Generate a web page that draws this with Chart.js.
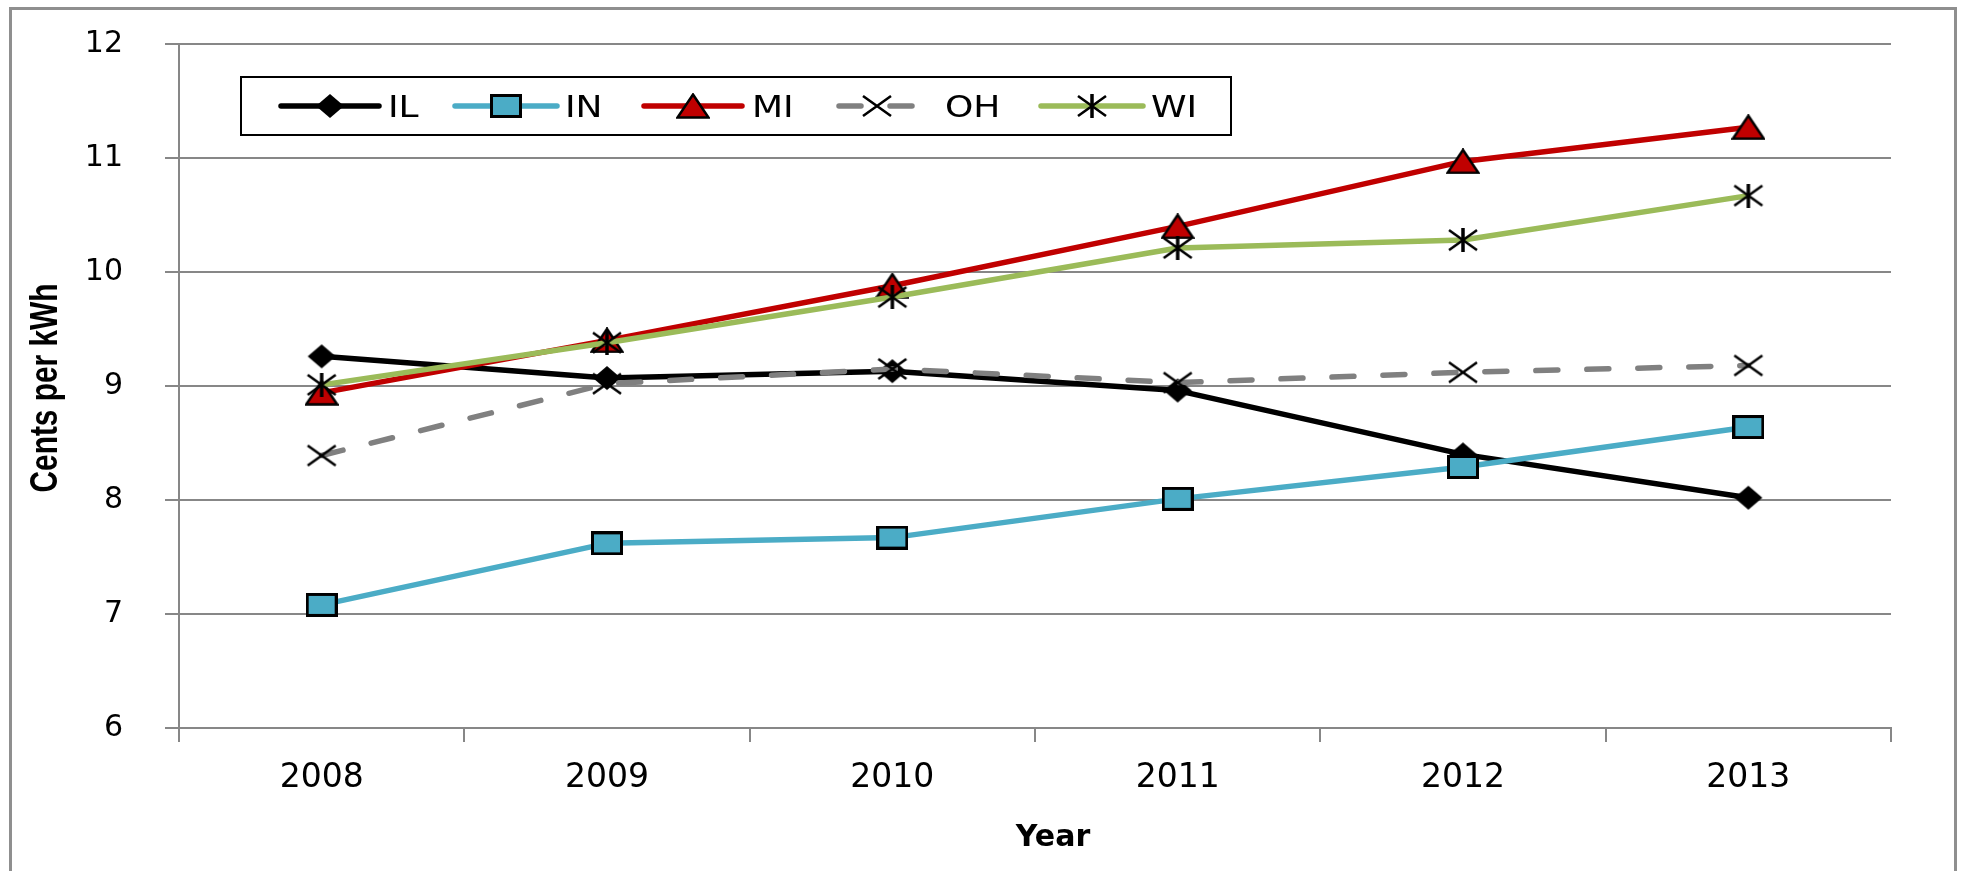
<!DOCTYPE html>
<html>
<head>
<meta charset="utf-8">
<title>Cents per kWh, 2008–2013</title>
<script src="https://cdn.jsdelivr.net/npm/chart.js@4/dist/chart.umd.min.js"></script>
<style>
  html, body { margin: 0; padding: 0; background: #ffffff; }
  #wrap { width: 1965px; height: 871px; }
</style>
</head>
<body>
<div id="wrap"><canvas id="chart" width="1965" height="871"></canvas></div>
<script>
// Categories and series (cents per kWh)
const years = ['2008', '2009', '2010', '2011', '2012', '2013'];
const ilValues = [9.26, 9.07, 9.13, 8.96, 8.40, 8.02];
const inValues = [7.08, 7.62, 7.67, 8.01, 8.29, 8.64];
const miValues = [8.94, 9.40, 9.88, 10.40, 10.97, 11.27];
const ohValues = [8.39, 9.02, 9.15, 9.03, 9.12, 9.18];
const wiValues = [9.01, 9.38, 9.78, 10.21, 10.28, 10.67];
const yTickValues = [6, 7, 8, 9, 10, 11, 12];

const AXIS_GRAY = '#878787';
const LINE_W = 5.5;

// Marker glyphs painted once onto small canvases and used as point styles
function markerCanvas(w, h, paint) {
  const c = document.createElement('canvas');
  c.width = w; c.height = h;
  paint(c.getContext('2d'), w, h);
  return c;
}
const diamondMark = markerCanvas(30, 26, (g) => {
  g.beginPath();
  g.moveTo(15, 1); g.lineTo(29, 13); g.lineTo(15, 25); g.lineTo(1, 13);
  g.closePath();
  g.fillStyle = '#000000'; g.fill();
});
const squareMark = markerCanvas(32, 24, (g) => {
  g.fillStyle = '#4BACC6';
  g.fillRect(1.5, 1.5, 29, 21);
  g.strokeStyle = '#000000'; g.lineWidth = 3;
  g.strokeRect(1.5, 1.5, 29, 21);
});
const triangleMark = markerCanvas(34, 26, (g) => {
  g.beginPath();
  g.moveTo(17, 1.5); g.lineTo(32.5, 24.5); g.lineTo(1.5, 24.5);
  g.closePath();
  g.fillStyle = '#C00000'; g.fill();
  g.strokeStyle = '#000000'; g.lineWidth = 2.5; g.lineJoin = 'miter';
  g.stroke();
});
function crossPaint(g, w, h) {
  g.strokeStyle = '#000000'; g.lineWidth = 2.6; g.lineCap = 'butt';
  g.beginPath();
  g.moveTo(2, 2); g.lineTo(w - 2, h - 2);
  g.moveTo(w - 2, 2); g.lineTo(2, h - 2);
  g.stroke();
}
const crossMark = markerCanvas(32, 24, crossPaint);
const starMark = markerCanvas(32, 24, (g, w, h) => {
  crossPaint(g, w, h);
  g.lineWidth = 3.5;
  g.beginPath(); g.moveTo(w / 2, 0); g.lineTo(w / 2, h); g.stroke();
});

function series(label, values, color, mark, order, extra) {
  return Object.assign({
    label: label,
    data: values,
    borderColor: color,
    backgroundColor: color,
    borderWidth: LINE_W,
    borderJoinStyle: 'round',
    pointStyle: mark,
    pointRadius: 12,
    pointHoverRadius: 12,
    tension: 0,
    fill: false,
    order: order
  }, extra || {});
}

// Page frame, legend box and the two axis titles
const decorations = {
  id: 'decorations',
  beforeDraw(chart) {
    const ctx = chart.ctx;
    ctx.save();
    ctx.fillStyle = '#ffffff';
    ctx.fillRect(0, 0, chart.width, chart.height);
    ctx.strokeStyle = '#8f8f8f';
    ctx.lineWidth = 3;
    ctx.strokeRect(10.5, 8.5, 1945, 880);
    ctx.restore();
  },
  afterDraw(chart) {
    const ctx = chart.ctx;

    // Legend
    ctx.save();
    ctx.fillStyle = '#ffffff';
    ctx.fillRect(240, 76, 992, 59);
    ctx.strokeStyle = '#000000';
    ctx.lineWidth = 2;
    ctx.strokeRect(241, 77, 990, 58);
    const slots = [
      { x0: 281, x1: 379, text: 388 },
      { x0: 455, x1: 557, text: 565 },
      { x0: 644, x1: 742, text: 752 },
      { x0: 839, x1: 914, text: 945 },
      { x0: 1041, x1: 1143, text: 1151 }
    ];
    const cy = 106;
    chart.data.datasets.forEach((ds, i) => {
      const s = slots[i];
      ctx.save();
      ctx.strokeStyle = ds.borderColor;
      ctx.lineWidth = ds.borderWidth;
      ctx.lineCap = 'round';
      if (ds.borderDash) ctx.setLineDash(ds.borderDash);
      ctx.beginPath();
      ctx.moveTo(s.x0, cy); ctx.lineTo(s.x1, cy);
      ctx.stroke();
      ctx.restore();
      const m = ds.pointStyle;
      const mx = (s.x0 + s.x1) / 2;
      ctx.drawImage(m, Math.round(mx - m.width / 2), Math.round(cy - m.height / 2));
      ctx.save();
      ctx.fillStyle = '#000000';
      ctx.font = '30px "DejaVu Sans"';
      ctx.textBaseline = 'alphabetic';
      ctx.textAlign = 'left';
      ctx.translate(s.text, 117);
      ctx.scale(1.2, 1);
      ctx.fillText(ds.label, 0, 0);
      ctx.restore();
    });
    ctx.restore();

    // X axis title
    ctx.save();
    ctx.fillStyle = '#000000';
    ctx.font = 'bold 30px "DejaVu Sans"';
    ctx.textAlign = 'center';
    ctx.textBaseline = 'alphabetic';
    ctx.fillText('Year', 1053, 846);
    ctx.restore();

    // Y axis title, rotated and condensed to its drawn length
    ctx.save();
    const yTitle = 'Cents per kWh';
    const titleLength = 209;
    ctx.fillStyle = '#000000';
    ctx.font = 'bold 38px "Liberation Sans", "DejaVu Sans", sans-serif';
    ctx.textAlign = 'left';
    ctx.textBaseline = 'alphabetic';
    const natural = ctx.measureText(yTitle).width;
    ctx.setTransform(1, 0, 0, 1, 0, 0);
    ctx.translate(57, 388 + titleLength / 2);
    ctx.rotate(-Math.PI / 2);
    ctx.scale(titleLength / natural, 1);
    ctx.fillText(yTitle, 0, 0);
    ctx.restore();
  }
};

new Chart(document.getElementById('chart'), {
  type: 'line',
  data: {
    labels: years,
    datasets: [
      series('IL', ilValues, '#000000', diamondMark, 5),
      series('IN', inValues, '#4BACC6', squareMark, 4),
      series('MI', miValues, '#C00000', triangleMark, 3),
      series('OH', ohValues, '#808080', crossMark, 2, { borderDash: [22, 29], borderCapStyle: 'round' }),
      series('WI', wiValues, '#9BBB59', starMark, 1)
    ]
  },
  options: {
    responsive: false,
    devicePixelRatio: 1,
    animation: false,
    events: [],
    layout: { padding: { left: 0, right: 74, top: 44, bottom: 0 } },
    plugins: {
      legend: { display: false },
      tooltip: { enabled: false },
      title: { display: false }
    },
    scales: {
      x: {
        type: 'category',
        offset: true,
        grid: {
          offset: true,
          drawOnChartArea: false,
          drawTicks: true,
          tickLength: 14,
          color: AXIS_GRAY,
          lineWidth: 2
        },
        border: { display: true, color: AXIS_GRAY, width: 2 },
        ticks: {
          color: '#000000',
          font: { family: 'DejaVu Sans', size: 33 },
          padding: 17,
          maxRotation: 0,
          autoSkip: false
        },
        afterFit(scale) { scale.height = 143; }
      },
      y: {
        min: 6,
        max: 12,
        afterBuildTicks(scale) { scale.ticks = yTickValues.map(v => ({ value: v })); },
        grid: {
          color: AXIS_GRAY,
          lineWidth: 2,
          drawTicks: true,
          tickLength: 14
        },
        border: { display: true, color: AXIS_GRAY, width: 2 },
        ticks: {
          color: '#000000',
          font: { family: 'DejaVu Sans', size: 30 },
          padding: 42
        },
        afterFit(scale) {
          scale.width = 179;
          scale.paddingTop = 0;
          scale.paddingBottom = 0;
        }
      }
    }
  },
  plugins: [decorations]
});
</script>
</body>
</html>
